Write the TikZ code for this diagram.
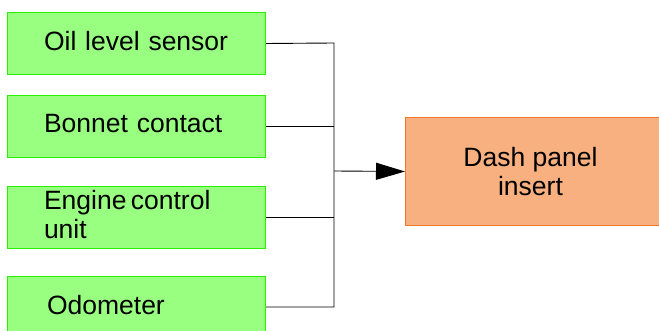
\documentclass[tikz,border=0pt]{standalone}
\usepackage{fontspec}
\setmainfont{Liberation Sans}
\usetikzlibrary{arrows.meta}
\definecolor{gfill}{RGB}{153,255,128}
\definecolor{gline}{RGB}{40,240,0}
\definecolor{ofill}{RGB}{248,176,128}
\definecolor{oline}{RGB}{240,120,40}
\begin{document}
\begin{tikzpicture}[x=1pt,y=-1pt,
  srcbox/.style={draw=gline, fill=gfill, line width=1pt, rectangle,
    minimum width=258pt, minimum height=62pt, anchor=north west,
    text width=185pt, inner xsep=36pt, align=left,
    font=\fontsize{26.5}{29}\selectfont,
    execute at end node={\rule[-6pt]{0pt}{0pt}}},
  dstbox/.style={draw=oline, fill=ofill, line width=1pt, rectangle,
    minimum width=256pt, minimum height=108pt, anchor=north west,
    align=center, font=\fontsize{26.5}{29}\selectfont},
  wire/.style={draw=black, line width=0.9pt}]
\useasboundingbox (0,0) rectangle (659,331);
\begin{scope}
\clip (0,0) rectangle (659,331);
\node[srcbox] (oil) at (7,12) {Oil level sensor};
\node[srcbox] (bon) at (7,95) {Bonnet contact};
\node[srcbox] (ecu) at (7,186) {Engine\,control\\unit};
\node[srcbox] (odo) at (7,276) {\hspace*{3pt}Odometer};
\node[dstbox] (dash) at (405,117) {Dash panel\hspace*{6pt}\\insert\hspace*{6pt}};
\coordinate (top) at (334,43);
\coordinate (bot) at (334,307);
\coordinate (mid) at (334,171);
\draw[wire] (oil.east) -- (top) -- (bot) -- (bot -| odo.east);
\draw[wire] (bon.east) -- (bon.east -| top);
\draw[wire] (ecu.east) -- (ecu.east -| top);
\draw[wire, -{Triangle[length=29pt,width=17pt]}] (mid) -- (dash.west);
\end{scope}
\end{tikzpicture}
\end{document}
